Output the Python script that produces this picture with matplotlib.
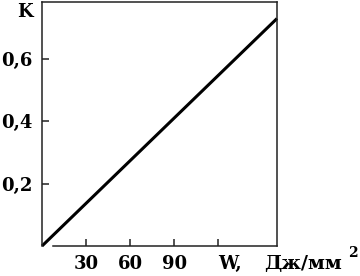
import matplotlib.pyplot as plt

# data
W = [0, 160]
K = [0, 0.73]
xticks = [30, 60, 90, 120]
xlabels = ['30', '60', '90', '']
yticks = [0.2, 0.4, 0.6]
ylabels = ['0,2', '0,4', '0,6']

plt.rcParams['font.family'] = ['DejaVu Serif']
plt.rcParams['font.weight'] = 'bold'
fs = 13

fig = plt.figure(figsize=(3.6, 2.76), dpi=100)
ax = fig.add_axes([42/360, 30/276, 235/360, 244/276])

ax.plot(W, K, color='black', lw=2.2, solid_capstyle='butt', clip_on=False)

ax.set_xlim(0, 160)
ax.set_ylim(0, 0.783)
for s in ax.spines.values():
    s.set_linewidth(1.1)
    s.set_color('#222222')
ax.spines['bottom'].set_bounds(7.5, 160)

ax.set_xticks(xticks)
ax.set_xticklabels(xlabels, fontsize=fs, fontweight='bold')
ax.set_yticks(yticks)
ax.set_yticklabels(ylabels, fontsize=fs, fontweight='bold')
ax.tick_params(direction='in', length=5, width=1.1, pad=6.5, color='#222222')

ax.text(-0.04, 0.96, 'K', transform=ax.transAxes, ha='right', va='center',
        fontsize=fs, fontweight='bold')
ax.text(0.80, -0.074, 'W,', transform=ax.transAxes, ha='center', va='center',
        fontsize=fs, fontweight='bold')
ax.text(0.945, -0.074, 'Дж/мм', transform=ax.transAxes, ha='left', va='center',
        fontsize=14, fontweight='bold')
ax.text(1.302, -0.03, '2', transform=ax.transAxes, ha='left', va='center',
        fontsize=10, fontweight='bold')

fig.savefig('out.png', dpi=100)
